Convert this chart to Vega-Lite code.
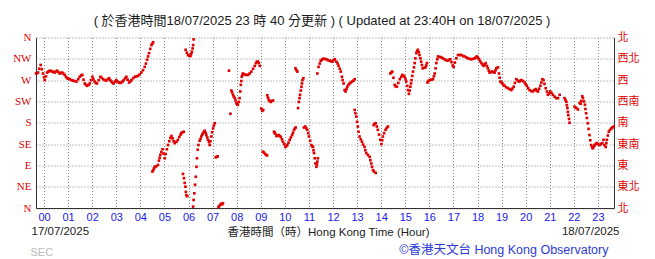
{
  "$schema": "https://vega.github.io/schema/vega-lite/v6.json",
  "width": 578,
  "height": 170.5,
  "autosize": "none",
  "padding": {"left": 36, "top": 37.5, "right": 41, "bottom": 51},
  "background": "white",
  "config": {"view": {"stroke": null}},
  "title": {
    "text": "( 於香港時間18/07/2025 23 時 40 分更新 ) ( Updated at 23:40H on 18/07/2025 )",
    "anchor": "middle",
    "frame": "group",
    "font": "Liberation Sans, Noto Sans CJK TC",
    "fontSize": 13,
    "fontWeight": "normal",
    "color": "#1a1a1a",
    "offset": 4,
    "dx": -3
  },
  "data": {
    "values": [
      {"hour": -0.33, "dir": 284}, {"hour": -0.29, "dir": 285}, {"hour": -0.25, "dir": 286}, {"hour": -0.2, "dir": 294}, {"hour": -0.14, "dir": 302}, {"hour": -0.09, "dir": 293}, {"hour": -0.04, "dir": 284}, {"hour": 0.0, "dir": 276}, {"hour": 0.03, "dir": 270}, {"hour": 0.08, "dir": 278}, {"hour": 0.13, "dir": 286}, {"hour": 0.18, "dir": 288}, {"hour": 0.24, "dir": 290}, {"hour": 0.3, "dir": 289}, {"hour": 0.35, "dir": 288}, {"hour": 0.4, "dir": 287}, {"hour": 0.44, "dir": 286}, {"hour": 0.49, "dir": 288}, {"hour": 0.54, "dir": 290}, {"hour": 0.6, "dir": 287}, {"hour": 0.65, "dir": 284}, {"hour": 0.7, "dir": 285}, {"hour": 0.75, "dir": 286}, {"hour": 0.8, "dir": 284}, {"hour": 0.86, "dir": 281}, {"hour": 0.91, "dir": 277}, {"hour": 0.96, "dir": 274}, {"hour": 1.01, "dir": 273}, {"hour": 1.07, "dir": 272}, {"hour": 1.13, "dir": 270}, {"hour": 1.2, "dir": 269}, {"hour": 1.27, "dir": 268}, {"hour": 1.35, "dir": 267}, {"hour": 1.42, "dir": 272}, {"hour": 1.48, "dir": 277}, {"hour": 1.54, "dir": 280}, {"hour": 1.59, "dir": 281}, {"hour": 1.64, "dir": 271}, {"hour": 1.69, "dir": 263}, {"hour": 1.74, "dir": 260}, {"hour": 1.79, "dir": 258}, {"hour": 1.85, "dir": 260}, {"hour": 1.9, "dir": 263}, {"hour": 1.95, "dir": 270}, {"hour": 2.01, "dir": 277}, {"hour": 2.05, "dir": 272}, {"hour": 2.1, "dir": 267}, {"hour": 2.15, "dir": 264}, {"hour": 2.2, "dir": 263}, {"hour": 2.27, "dir": 270}, {"hour": 2.34, "dir": 277}, {"hour": 2.39, "dir": 275}, {"hour": 2.45, "dir": 272}, {"hour": 2.52, "dir": 270}, {"hour": 2.59, "dir": 269}, {"hour": 2.65, "dir": 272}, {"hour": 2.7, "dir": 274}, {"hour": 2.75, "dir": 270}, {"hour": 2.8, "dir": 267}, {"hour": 2.85, "dir": 264}, {"hour": 2.89, "dir": 263}, {"hour": 2.95, "dir": 267}, {"hour": 3.0, "dir": 270}, {"hour": 3.05, "dir": 267}, {"hour": 3.11, "dir": 265}, {"hour": 3.16, "dir": 264}, {"hour": 3.21, "dir": 265}, {"hour": 3.26, "dir": 267}, {"hour": 3.31, "dir": 270}, {"hour": 3.37, "dir": 274}, {"hour": 3.42, "dir": 277}, {"hour": 3.47, "dir": 271}, {"hour": 3.53, "dir": 265}, {"hour": 3.58, "dir": 267}, {"hour": 3.63, "dir": 270}, {"hour": 3.7, "dir": 274}, {"hour": 3.77, "dir": 277}, {"hour": 3.84, "dir": 278}, {"hour": 3.9, "dir": 279}, {"hour": 3.97, "dir": 282}, {"hour": 4.04, "dir": 286}, {"hour": 4.11, "dir": 291}, {"hour": 4.18, "dir": 298}, {"hour": 4.23, "dir": 305}, {"hour": 4.28, "dir": 313}, {"hour": 4.32, "dir": 320}, {"hour": 4.36, "dir": 327}, {"hour": 4.41, "dir": 336}, {"hour": 4.46, "dir": 344}, {"hour": 4.5, "dir": 347}, {"hour": 4.53, "dir": 350},
      {"hour": 4.5, "dir": 77}, {"hour": 4.54, "dir": 80}, {"hour": 4.57, "dir": 84}, {"hour": 4.6, "dir": 87}, {"hour": 4.66, "dir": 88}, {"hour": 4.73, "dir": 91}, {"hour": 4.77, "dir": 100}, {"hour": 4.8, "dir": 106}, {"hour": 4.83, "dir": 112}, {"hour": 4.87, "dir": 118}, {"hour": 4.92, "dir": 124}, {"hour": 4.96, "dir": 115}, {"hour": 5.01, "dir": 105}, {"hour": 5.05, "dir": 114}, {"hour": 5.1, "dir": 124}, {"hour": 5.15, "dir": 133}, {"hour": 5.2, "dir": 141}, {"hour": 5.25, "dir": 148}, {"hour": 5.29, "dir": 152}, {"hour": 5.34, "dir": 147}, {"hour": 5.38, "dir": 141}, {"hour": 5.43, "dir": 137}, {"hour": 5.5, "dir": 140}, {"hour": 5.56, "dir": 144}, {"hour": 5.62, "dir": 150}, {"hour": 5.67, "dir": 155}, {"hour": 5.7, "dir": 158}, {"hour": 5.75, "dir": 160}, {"hour": 5.8, "dir": 161},
      {"hour": 5.77, "dir": 72}, {"hour": 5.81, "dir": 63}, {"hour": 5.84, "dir": 53}, {"hour": 5.87, "dir": 45}, {"hour": 5.89, "dir": 34}, {"hour": 5.91, "dir": 27}, {"hour": 5.95, "dir": 25},
      {"hour": 5.88, "dir": 334}, {"hour": 5.93, "dir": 328}, {"hour": 5.98, "dir": 323}, {"hour": 6.03, "dir": 321}, {"hour": 6.08, "dir": 321}, {"hour": 6.11, "dir": 325}, {"hour": 6.14, "dir": 330}, {"hour": 6.17, "dir": 337}, {"hour": 6.19, "dir": 344}, {"hour": 6.21, "dir": 356},
      {"hour": 6.19, "dir": 3}, {"hour": 6.21, "dir": 17}, {"hour": 6.24, "dir": 31}, {"hour": 6.27, "dir": 49}, {"hour": 6.3, "dir": 66}, {"hour": 6.33, "dir": 87}, {"hour": 6.35, "dir": 105}, {"hour": 6.38, "dir": 123}, {"hour": 6.41, "dir": 133}, {"hour": 6.46, "dir": 142}, {"hour": 6.5, "dir": 146}, {"hour": 6.53, "dir": 151}, {"hour": 6.57, "dir": 155}, {"hour": 6.6, "dir": 158}, {"hour": 6.64, "dir": 161}, {"hour": 6.67, "dir": 163}, {"hour": 6.71, "dir": 159}, {"hour": 6.74, "dir": 154}, {"hour": 6.78, "dir": 149}, {"hour": 6.81, "dir": 144}, {"hour": 6.85, "dir": 139}, {"hour": 6.88, "dir": 133}, {"hour": 6.91, "dir": 141}, {"hour": 6.95, "dir": 151}, {"hour": 6.98, "dir": 160}, {"hour": 7.02, "dir": 168}, {"hour": 7.05, "dir": 174}, {"hour": 7.09, "dir": 179},
      {"hour": 7.13, "dir": 107}, {"hour": 7.17, "dir": 108}, {"hour": 7.21, "dir": 109},
      {"hour": 7.24, "dir": 2}, {"hour": 7.28, "dir": 4}, {"hour": 7.32, "dir": 7}, {"hour": 7.36, "dir": 9}, {"hour": 7.4, "dir": 8}, {"hour": 7.43, "dir": 10},
      {"hour": 7.68, "dir": 290}, {"hour": 7.74, "dir": 199},
      {"hour": 7.78, "dir": 248}, {"hour": 7.81, "dir": 244}, {"hour": 7.85, "dir": 239}, {"hour": 7.88, "dir": 235}, {"hour": 7.92, "dir": 232}, {"hour": 7.95, "dir": 227}, {"hour": 7.99, "dir": 221}, {"hour": 8.02, "dir": 219}, {"hour": 8.05, "dir": 218}, {"hour": 8.09, "dir": 224}, {"hour": 8.12, "dir": 232}, {"hour": 8.15, "dir": 246}, {"hour": 8.17, "dir": 260}, {"hour": 8.19, "dir": 268}, {"hour": 8.21, "dir": 277}, {"hour": 8.24, "dir": 281}, {"hour": 8.26, "dir": 284}, {"hour": 8.33, "dir": 282}, {"hour": 8.4, "dir": 281}, {"hour": 8.47, "dir": 281}, {"hour": 8.54, "dir": 284}, {"hour": 8.61, "dir": 288}, {"hour": 8.68, "dir": 294}, {"hour": 8.75, "dir": 300}, {"hour": 8.8, "dir": 306}, {"hour": 8.84, "dir": 309}, {"hour": 8.88, "dir": 309}, {"hour": 8.92, "dir": 306}, {"hour": 8.96, "dir": 300},
      {"hour": 9.02, "dir": 210}, {"hour": 9.06, "dir": 205}, {"hour": 9.1, "dir": 207},
      {"hour": 9.09, "dir": 119}, {"hour": 9.13, "dir": 117}, {"hour": 9.18, "dir": 114}, {"hour": 9.23, "dir": 112}, {"hour": 9.26, "dir": 111},
      {"hour": 9.27, "dir": 238}, {"hour": 9.3, "dir": 233}, {"hour": 9.33, "dir": 228}, {"hour": 9.37, "dir": 226}, {"hour": 9.41, "dir": 224}, {"hour": 9.46, "dir": 226}, {"hour": 9.51, "dir": 227},
      {"hour": 9.55, "dir": 161}, {"hour": 9.58, "dir": 159}, {"hour": 9.6, "dir": 157}, {"hour": 9.65, "dir": 152}, {"hour": 9.7, "dir": 153}, {"hour": 9.74, "dir": 154}, {"hour": 9.79, "dir": 152}, {"hour": 9.83, "dir": 150}, {"hour": 9.88, "dir": 145}, {"hour": 9.92, "dir": 140}, {"hour": 9.97, "dir": 135}, {"hour": 10.02, "dir": 129}, {"hour": 10.06, "dir": 131}, {"hour": 10.1, "dir": 133}, {"hour": 10.15, "dir": 138}, {"hour": 10.2, "dir": 144}, {"hour": 10.25, "dir": 149}, {"hour": 10.3, "dir": 154}, {"hour": 10.34, "dir": 159}, {"hour": 10.38, "dir": 165}, {"hour": 10.42, "dir": 168}, {"hour": 10.45, "dir": 170},
      {"hour": 10.44, "dir": 295}, {"hour": 10.48, "dir": 291}, {"hour": 10.52, "dir": 288},
      {"hour": 10.55, "dir": 211}, {"hour": 10.58, "dir": 224}, {"hour": 10.61, "dir": 232}, {"hour": 10.63, "dir": 239}, {"hour": 10.66, "dir": 248}, {"hour": 10.69, "dir": 256}, {"hour": 10.71, "dir": 263}, {"hour": 10.73, "dir": 270}, {"hour": 10.77, "dir": 274},
      {"hour": 10.79, "dir": 170}, {"hour": 10.85, "dir": 172}, {"hour": 10.89, "dir": 168}, {"hour": 10.93, "dir": 165}, {"hour": 10.97, "dir": 158}, {"hour": 11.0, "dir": 151}, {"hour": 11.05, "dir": 142}, {"hour": 11.1, "dir": 133}, {"hour": 11.14, "dir": 130}, {"hour": 11.17, "dir": 129}, {"hour": 11.19, "dir": 122}, {"hour": 11.21, "dir": 116}, {"hour": 11.24, "dir": 105}, {"hour": 11.27, "dir": 94}, {"hour": 11.31, "dir": 87}, {"hour": 11.33, "dir": 92}, {"hour": 11.35, "dir": 98}, {"hour": 11.37, "dir": 105},
      {"hour": 11.35, "dir": 284}, {"hour": 11.4, "dir": 298}, {"hour": 11.45, "dir": 305}, {"hour": 11.49, "dir": 311}, {"hour": 11.54, "dir": 313}, {"hour": 11.58, "dir": 315}, {"hour": 11.65, "dir": 315}, {"hour": 11.72, "dir": 314}, {"hour": 11.79, "dir": 312}, {"hour": 11.86, "dir": 311}, {"hour": 11.91, "dir": 310}, {"hour": 11.96, "dir": 309}, {"hour": 12.02, "dir": 312}, {"hour": 12.07, "dir": 314}, {"hour": 12.14, "dir": 309}, {"hour": 12.19, "dir": 305}, {"hour": 12.23, "dir": 300}, {"hour": 12.28, "dir": 294}, {"hour": 12.32, "dir": 288}, {"hour": 12.37, "dir": 277}, {"hour": 12.4, "dir": 270}, {"hour": 12.44, "dir": 263}, {"hour": 12.48, "dir": 249}, {"hour": 12.52, "dir": 246}, {"hour": 12.56, "dir": 251}, {"hour": 12.59, "dir": 256}, {"hour": 12.64, "dir": 260}, {"hour": 12.69, "dir": 263}, {"hour": 12.74, "dir": 265}, {"hour": 12.79, "dir": 267}, {"hour": 12.85, "dir": 269}, {"hour": 12.9, "dir": 272},
      {"hour": 12.9, "dir": 207}, {"hour": 12.93, "dir": 200}, {"hour": 12.97, "dir": 193}, {"hour": 13.0, "dir": 182}, {"hour": 13.03, "dir": 172}, {"hour": 13.06, "dir": 161}, {"hour": 13.1, "dir": 151}, {"hour": 13.15, "dir": 145}, {"hour": 13.2, "dir": 140}, {"hour": 13.25, "dir": 134}, {"hour": 13.31, "dir": 129}, {"hour": 13.34, "dir": 122}, {"hour": 13.38, "dir": 116}, {"hour": 13.45, "dir": 112}, {"hour": 13.52, "dir": 108}, {"hour": 13.55, "dir": 101}, {"hour": 13.59, "dir": 94}, {"hour": 13.62, "dir": 87}, {"hour": 13.66, "dir": 80}, {"hour": 13.7, "dir": 77}, {"hour": 13.77, "dir": 74},
      {"hour": 13.69, "dir": 175}, {"hour": 13.73, "dir": 178}, {"hour": 13.77, "dir": 179}, {"hour": 13.82, "dir": 172}, {"hour": 13.86, "dir": 165}, {"hour": 13.91, "dir": 155}, {"hour": 13.96, "dir": 144}, {"hour": 14.01, "dir": 135}, {"hour": 14.04, "dir": 143}, {"hour": 14.07, "dir": 151}, {"hour": 14.12, "dir": 158}, {"hour": 14.18, "dir": 165}, {"hour": 14.23, "dir": 169}, {"hour": 14.28, "dir": 172},
      {"hour": 14.38, "dir": 284}, {"hour": 14.42, "dir": 286}, {"hour": 14.46, "dir": 288}, {"hour": 14.51, "dir": 275}, {"hour": 14.56, "dir": 260}, {"hour": 14.6, "dir": 257}, {"hour": 14.65, "dir": 256}, {"hour": 14.71, "dir": 264}, {"hour": 14.77, "dir": 272}, {"hour": 14.83, "dir": 277}, {"hour": 14.88, "dir": 281}, {"hour": 14.93, "dir": 279}, {"hour": 14.97, "dir": 277}, {"hour": 15.01, "dir": 272}, {"hour": 15.04, "dir": 267}, {"hour": 15.08, "dir": 258}, {"hour": 15.11, "dir": 249}, {"hour": 15.15, "dir": 241}, {"hour": 15.18, "dir": 248}, {"hour": 15.21, "dir": 256}, {"hour": 15.24, "dir": 263}, {"hour": 15.26, "dir": 270}, {"hour": 15.29, "dir": 279}, {"hour": 15.32, "dir": 288}, {"hour": 15.36, "dir": 297}, {"hour": 15.39, "dir": 306}, {"hour": 15.42, "dir": 316}, {"hour": 15.46, "dir": 327}, {"hour": 15.49, "dir": 331}, {"hour": 15.52, "dir": 334}, {"hour": 15.56, "dir": 329}, {"hour": 15.59, "dir": 323}, {"hour": 15.63, "dir": 316}, {"hour": 15.66, "dir": 309}, {"hour": 15.69, "dir": 302}, {"hour": 15.72, "dir": 295}, {"hour": 15.78, "dir": 296}, {"hour": 15.84, "dir": 297}, {"hour": 15.87, "dir": 301}, {"hour": 15.9, "dir": 306},
      {"hour": 15.92, "dir": 265}, {"hour": 15.96, "dir": 268}, {"hour": 16.01, "dir": 270}, {"hour": 16.08, "dir": 271}, {"hour": 16.15, "dir": 272}, {"hour": 16.19, "dir": 278}, {"hour": 16.22, "dir": 284}, {"hour": 16.26, "dir": 295}, {"hour": 16.29, "dir": 306}, {"hour": 16.33, "dir": 314}, {"hour": 16.36, "dir": 320}, {"hour": 16.43, "dir": 319}, {"hour": 16.5, "dir": 318}, {"hour": 16.56, "dir": 316}, {"hour": 16.63, "dir": 314}, {"hour": 16.7, "dir": 312}, {"hour": 16.77, "dir": 311}, {"hour": 16.82, "dir": 313}, {"hour": 16.87, "dir": 314}, {"hour": 16.92, "dir": 308}, {"hour": 16.97, "dir": 301}, {"hour": 17.01, "dir": 298}, {"hour": 17.06, "dir": 307}, {"hour": 17.12, "dir": 316}, {"hour": 17.19, "dir": 323}, {"hour": 17.26, "dir": 323}, {"hour": 17.33, "dir": 323}, {"hour": 17.4, "dir": 321}, {"hour": 17.46, "dir": 320}, {"hour": 17.53, "dir": 318}, {"hour": 17.6, "dir": 316}, {"hour": 17.67, "dir": 315}, {"hour": 17.74, "dir": 314}, {"hour": 17.81, "dir": 315}, {"hour": 17.88, "dir": 316}, {"hour": 17.93, "dir": 318}, {"hour": 17.97, "dir": 320}, {"hour": 18.02, "dir": 317}, {"hour": 18.06, "dir": 314}, {"hour": 18.11, "dir": 310}, {"hour": 18.16, "dir": 306}, {"hour": 18.21, "dir": 303}, {"hour": 18.25, "dir": 300}, {"hour": 18.3, "dir": 303}, {"hour": 18.34, "dir": 306}, {"hour": 18.39, "dir": 300}, {"hour": 18.43, "dir": 295}, {"hour": 18.47, "dir": 290}, {"hour": 18.5, "dir": 286}, {"hour": 18.55, "dir": 287}, {"hour": 18.61, "dir": 288}, {"hour": 18.66, "dir": 287}, {"hour": 18.71, "dir": 286}, {"hour": 18.75, "dir": 291}, {"hour": 18.78, "dir": 295}, {"hour": 18.85, "dir": 297}, {"hour": 18.89, "dir": 284}, {"hour": 18.92, "dir": 275}, {"hour": 18.95, "dir": 267}, {"hour": 19.0, "dir": 265}, {"hour": 19.03, "dir": 263}, {"hour": 19.08, "dir": 260}, {"hour": 19.12, "dir": 258}, {"hour": 19.19, "dir": 255}, {"hour": 19.26, "dir": 253}, {"hour": 19.33, "dir": 251}, {"hour": 19.4, "dir": 249}, {"hour": 19.45, "dir": 252}, {"hour": 19.5, "dir": 256}, {"hour": 19.55, "dir": 264}, {"hour": 19.61, "dir": 272}, {"hour": 19.67, "dir": 269}, {"hour": 19.72, "dir": 267}, {"hour": 19.77, "dir": 268}, {"hour": 19.82, "dir": 270}, {"hour": 19.89, "dir": 268}, {"hour": 19.96, "dir": 265}, {"hour": 20.0, "dir": 261}, {"hour": 20.05, "dir": 258}, {"hour": 20.1, "dir": 253}, {"hour": 20.16, "dir": 249}, {"hour": 20.23, "dir": 247}, {"hour": 20.3, "dir": 246}, {"hour": 20.36, "dir": 249}, {"hour": 20.41, "dir": 251}, {"hour": 20.46, "dir": 248}, {"hour": 20.51, "dir": 246}, {"hour": 20.56, "dir": 252}, {"hour": 20.61, "dir": 258}, {"hour": 20.65, "dir": 265}, {"hour": 20.69, "dir": 272}, {"hour": 20.74, "dir": 270}, {"hour": 20.78, "dir": 262}, {"hour": 20.83, "dir": 253}, {"hour": 20.88, "dir": 246}, {"hour": 20.92, "dir": 239}, {"hour": 20.97, "dir": 242}, {"hour": 21.02, "dir": 246}, {"hour": 21.07, "dir": 243}, {"hour": 21.13, "dir": 239}, {"hour": 21.2, "dir": 235}, {"hour": 21.27, "dir": 232}, {"hour": 21.34, "dir": 232}, {"hour": 21.41, "dir": 239},
      {"hour": 21.61, "dir": 232}, {"hour": 21.65, "dir": 228}, {"hour": 21.69, "dir": 224}, {"hour": 21.71, "dir": 217}, {"hour": 21.73, "dir": 211}, {"hour": 21.75, "dir": 203}, {"hour": 21.77, "dir": 196}, {"hour": 21.8, "dir": 188}, {"hour": 21.82, "dir": 180},
      {"hour": 22.03, "dir": 214}, {"hour": 22.07, "dir": 212}, {"hour": 22.1, "dir": 211}, {"hour": 22.17, "dir": 208},
      {"hour": 22.24, "dir": 222}, {"hour": 22.28, "dir": 220}, {"hour": 22.31, "dir": 226}, {"hour": 22.35, "dir": 236}, {"hour": 22.38, "dir": 232}, {"hour": 22.42, "dir": 225}, {"hour": 22.46, "dir": 218}, {"hour": 22.48, "dir": 209}, {"hour": 22.51, "dir": 200}, {"hour": 22.54, "dir": 190}, {"hour": 22.58, "dir": 179}, {"hour": 22.61, "dir": 167}, {"hour": 22.65, "dir": 154}, {"hour": 22.68, "dir": 143}, {"hour": 22.72, "dir": 133}, {"hour": 22.76, "dir": 128}, {"hour": 22.79, "dir": 126}, {"hour": 22.83, "dir": 130}, {"hour": 22.86, "dir": 133}, {"hour": 22.91, "dir": 135}, {"hour": 22.95, "dir": 137}, {"hour": 23.01, "dir": 135}, {"hour": 23.07, "dir": 133}, {"hour": 23.12, "dir": 135}, {"hour": 23.18, "dir": 137}, {"hour": 23.23, "dir": 144}, {"hour": 23.27, "dir": 133}, {"hour": 23.32, "dir": 129}, {"hour": 23.35, "dir": 137}, {"hour": 23.37, "dir": 144}, {"hour": 23.41, "dir": 153}, {"hour": 23.45, "dir": 161}, {"hour": 23.5, "dir": 165}, {"hour": 23.56, "dir": 168}, {"hour": 23.6, "dir": 170}, {"hour": 23.65, "dir": 172}
    ]
  },
  "layer": [
    {
      "mark": {"type": "point", "shape": "square", "filled": true, "size": 7, "color": "#e00000", "opacity": 1},
      "encoding": {
        "x": {
          "field": "hour", "type": "quantitative",
          "scale": {"domain": [-0.3333, 23.6667], "nice": false, "zero": false},
          "axis": {
            "orient": "bottom",
            "values": [0,1,2,3,4,5,6,7,8,9,10,11,12,13,14,15,16,17,18,19,20,21,22,23],
            "format": "02d",
            "labelFlush": false,
            "labelOverlap": false,
            "grid": true, "gridDash": [1, 2], "gridColor": "#888888", "gridWidth": 1,
            "ticks": false,
            "domain": true, "domainColor": "#333333", "domainWidth": 1,
            "labelColor": "#2020e8", "labelFont": "Liberation Sans", "labelFontSize": 11,
            "labelPadding": 3, "labelDx": -2,
            "title": null
          }
        },
        "y": {
          "field": "dir", "type": "quantitative",
          "scale": {"domain": [0, 360], "nice": false, "zero": false},
          "axis": {
            "orient": "left",
            "values": [0,45,90,135,180,225,270,315,360],
            "labelExpr": "['N','NE','E','SE','S','SW','W','NW','N'][round(datum.value/45)]",
            "labelOverlap": false,
            "labelFlush": false,
            "grid": true, "gridDash": [1, 2], "gridColor": "#888888", "gridWidth": 1,
            "ticks": false,
            "domain": true, "domainColor": "#333333", "domainWidth": 1,
            "labelColor": "#e00000", "labelFont": "Liberation Serif", "labelFontSize": 11,
            "labelPadding": 5,
            "title": "SEC", "titleAngle": 0, "titleX": -6, "titleY": 218,
            "titleAlign": "left", "titleBaseline": "alphabetic",
            "titleColor": "#bbbbbb", "titleFont": "Liberation Sans", "titleFontSize": 11, "titleFontWeight": "normal"
          }
        }
      }
    },
    {
      "mark": {"type": "point", "opacity": 0},
      "encoding": {
        "x": {
          "field": "hour", "type": "quantitative",
          "axis": {
            "orient": "bottom",
            "values": [-0.3333, 23.6667],
            "labelExpr": "datum.value < 10 ? '17/07/2025' : '18/07/2025'",
            "labelFlush": true, "labelFlushOffset": 5,
            "labelOverlap": false,
            "grid": false, "ticks": false, "tickSize": 0, "domain": false,
            "labelColor": "#222222", "labelFont": "Liberation Sans", "labelFontSize": 11.5,
            "labelPadding": 17,
            "title": "香港時間（時）Hong Kong Time (Hour)",
            "titleX": 292, "titleY": 27, "titleAlign": "center", "titleBaseline": "alphabetic",
            "titleColor": "#222222", "titleFont": "Liberation Sans, Noto Sans CJK TC", "titleFontSize": 11.5, "titleFontWeight": "normal"
          }
        },
        "y": {
          "field": "dir", "type": "quantitative",
          "axis": {
            "orient": "right",
            "values": [0,45,90,135,180,225,270,315,360],
            "labelExpr": "['北','東北','東','東南','南','西南','西','西北','北'][round(datum.value/45)]",
            "labelOverlap": false,
            "labelFlush": false,
            "grid": false, "ticks": false,
            "domain": true, "domainColor": "#333333", "domainWidth": 1,
            "labelColor": "#e00000", "labelFont": "Noto Sans CJK TC", "labelFontSize": 11,
            "labelPadding": 3,
            "title": "©香港天文台 Hong Kong Observatory", "titleAngle": 0, "titleX": -6, "titleY": 216,
            "titleAlign": "right", "titleBaseline": "alphabetic",
            "titleColor": "#2b3bd6", "titleFont": "Liberation Sans, Noto Sans CJK TC", "titleFontSize": 12.5, "titleFontWeight": "normal"
          }
        }
      }
    }
  ],
  "resolve": {"axis": {"x": "independent", "y": "independent"}}
}
